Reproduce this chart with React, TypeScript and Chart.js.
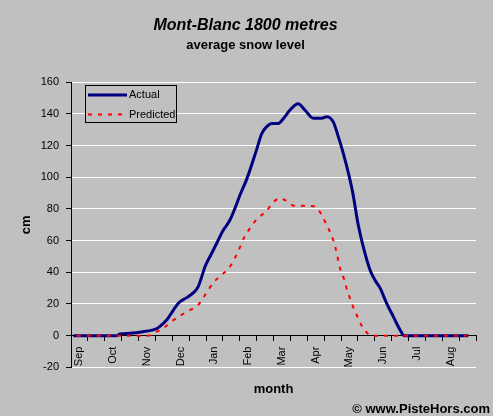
import React, { useEffect, useRef } from "react";
import { Chart, registerables } from "chart.js";

Chart.register(...registerables);

const FONT = '"Liberation Sans", Arial, Helvetica, sans-serif';

const chartTitle = "Mont-Blanc 1800 metres";
const chartSubtitle = "average snow level";
const xAxisTitle = "month";
const yAxisTitle = "cm";
const credit = "\u00A9 www.PisteHors.com";

const monthLabels = ["Sep", "Oct", "Nov", "Dec", "Jan", "Feb", "Mar", "Apr", "May", "Jun", "Jul", "Aug"];

const yMin = -20;
const yMax = 160;
const yStep = 20;

// x = months since 1 September
const actualMonth = [
  0.07, 1.36, 1.45, 1.75, 2.14, 2.4, 2.55, 2.7, 2.84, 3.03, 3.18, 3.43, 3.62, 3.77, 3.87, 3.97,
  4.12, 4.32, 4.51, 4.71, 4.86, 5.01, 5.21, 5.5, 5.65, 5.8, 5.95, 6.14, 6.29, 6.49, 6.73, 6.93,
  7.18, 7.43, 7.58, 7.77, 7.92, 8.07, 8.22, 8.35, 8.51, 8.66, 8.86, 9.01, 9.16, 9.35, 9.55, 9.75,
  9.87, 11.77,
];
const actualCm = [
  0, 0, 1, 1.5, 2.5, 3.5, 4.5, 7, 10, 16, 20.5, 24, 27, 31, 37, 43.5,
  50, 58.5, 66.5, 73, 80.5, 89, 99, 117.5, 127.5, 132, 134, 134, 137, 142.5, 146.5, 142.5,
  137.3, 137.3, 138.3, 135, 125.7, 115, 102.6, 90, 70, 56, 41.5, 35, 30, 20.5, 12, 3.6,
  0, 0,
];

const predictedMonth = [
  0.17, 2.28, 2.54, 2.73, 2.98, 3.23, 3.48, 3.77, 3.92, 4.07, 4.24, 4.47, 4.71, 4.88, 5.01, 5.13,
  5.27, 5.42, 5.65, 5.78, 5.95, 6.19, 6.37, 6.61, 6.98, 7.23, 7.43, 7.55, 7.67, 7.75, 7.84, 7.9,
  7.97, 8.1, 8.17, 8.25, 8.36, 8.48, 8.62, 8.74, 8.91, 11.73,
];
const predictedCm = [
  0, 0, 2.5, 4.6, 9, 12.5, 15.6, 19.4, 24, 29, 34, 38.4, 43.6, 50, 56, 62,
  66.8, 71.4, 76.2, 78.3, 83.2, 86.8, 85.3, 82, 82, 81.5, 76.2, 71, 65.7, 61.5, 55.2, 49.3,
  42.6, 35.2, 29.5, 24.6, 18, 12.4, 6, 2.5, 0, 0,
];

const seriesNames = ["Actual", "Predicted"];
const seriesColors = ["#000080", "#ff0000"];

const overlayPlugin = {
  id: "overlay",
  afterDatasetsDraw(chart: any) {
    const ctx = chart.ctx;
    const ds = chart.data.datasets;
    ctx.save();
    // legend box
    ctx.fillStyle = "#c0c0c0";
    ctx.fillRect(85.5, 85.5, 91, 37);
    ctx.strokeStyle = "#000";
    ctx.lineWidth = 1;
    ctx.setLineDash([]);
    ctx.strokeRect(85.5, 85.5, 91, 37);
    const rows = [95, 114.5];
    ds.forEach((d: any, i: number) => {
      const y = rows[i];
      ctx.save();
      ctx.strokeStyle = d.borderColor;
      ctx.lineWidth = d.borderWidth;
      ctx.setLineDash(d.borderDash || []);
      ctx.beginPath();
      ctx.moveTo(88, y);
      ctx.lineTo(127, y);
      ctx.stroke();
      ctx.restore();
      ctx.fillStyle = "#000";
      ctx.font = `11px ${FONT}`;
      ctx.textAlign = "left";
      ctx.textBaseline = "middle";
      ctx.fillText(d.label, 129, y);
    });
    ctx.restore();
  },
  afterDraw(chart: any) {
    const ctx = chart.ctx;
    const ca = chart.chartArea;
    ctx.save();
    ctx.fillStyle = "#000";
    ctx.font = `bold 13px ${FONT}`;
    ctx.textAlign = "center";
    ctx.textBaseline = "alphabetic";
    ctx.fillText(xAxisTitle, (ca.left + ca.right) / 2, 393);
    ctx.textAlign = "right";
    ctx.fillText(credit, 490, 413);
    ctx.restore();
  },
};

export default function App() {
  const ref = useRef<HTMLCanvasElement | null>(null);

  useEffect(() => {
    if (!ref.current) return;
    Chart.defaults.font.family = FONT;
    Chart.defaults.color = "#000";
    const categories = monthLabels.flatMap((m) => [m, ""]);
    const chart = new Chart(ref.current, {
      type: "line",
      data: {
        labels: categories,
        datasets: [
          {
            label: seriesNames[0],
            data: actualMonth.map((m, i) => ({ x: m, y: actualCm[i] })),
            xAxisID: "xl",
            yAxisID: "y",
            borderColor: seriesColors[0],
            backgroundColor: seriesColors[0],
            borderWidth: 3,
            pointRadius: 0,
            fill: false,
            cubicInterpolationMode: "monotone",
            order: 1,
          },
          {
            label: seriesNames[1],
            data: predictedMonth.map((m, i) => ({ x: m, y: predictedCm[i] })),
            xAxisID: "xl",
            yAxisID: "y",
            borderColor: seriesColors[1],
            backgroundColor: seriesColors[1],
            borderWidth: 2,
            borderDash: [4, 6],
            pointRadius: 0,
            fill: false,
            cubicInterpolationMode: "monotone",
            order: 0,
          },
        ],
      } as any,
      options: {
        responsive: false,
        animation: false,
        events: [],
        layout: { padding: { left: 15, right: 17, top: 0, bottom: 48.7 } },
        plugins: {
          legend: { display: false },
          tooltip: { enabled: false },
          title: {
            display: true,
            text: chartTitle,
            color: "#000",
            font: { family: FONT, size: 16, weight: "bold", style: "italic" },
            padding: { top: 16, bottom: 2 },
          },
          subtitle: {
            display: true,
            text: chartSubtitle,
            color: "#000",
            font: { family: FONT, size: 13, weight: "bold" },
            padding: { top: 0, bottom: 29.5 },
          },
        },
        scales: {
          x: {
            type: "category",
            axis: "x",
            position: { y: 0 },
            offset: true,
            grid: {
              display: true,
              offset: true,
              drawOnChartArea: false,
              drawTicks: true,
              tickLength: 5,
              tickColor: "#000",
              color: "#000",
            },
            border: { display: true, color: "#000", width: 1 },
            ticks: {
              autoSkip: false,
              minRotation: 90,
              maxRotation: 90,
              padding: 6,
              color: "#000",
              font: { family: FONT, size: 11 },
            },
          },
          xl: {
            type: "linear",
            axis: "x",
            display: false,
            min: 0,
            max: 12,
          },
          y: {
            type: "linear",
            position: "left",
            min: yMin,
            max: yMax,
            ticks: {
              stepSize: yStep,
              padding: 7,
              color: "#000",
              font: { family: FONT, size: 11 },
            },
            grid: {
              color: "#ffffff",
              lineWidth: 1,
              drawTicks: true,
              tickLength: 5,
              tickColor: "#000",
            },
            border: { display: true, color: "#000", width: 1 },
            title: {
              display: true,
              text: yAxisTitle,
              color: "#000",
              font: { family: FONT, size: 13, weight: "bold" },
              padding: { top: 4, bottom: 0 },
            },
            afterFit: (scale: any) => {
              scale.width = 56;
            },
          },
        },
      } as any,
      plugins: [overlayPlugin],
    });
    return () => chart.destroy();
  }, []);

  return (
    <div
      style={{
        position: "fixed",
        left: 0,
        top: 0,
        width: 493,
        height: 416,
        background: "#c0c0c0",
        overflow: "hidden",
      }}
    >
      <canvas ref={ref} width={493} height={416} style={{ display: "block", width: 493, height: 416 }} />
    </div>
  );
}
